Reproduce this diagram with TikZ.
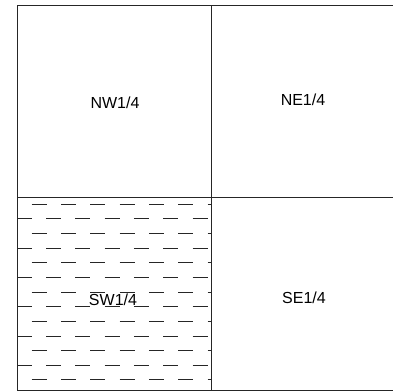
\documentclass[tikz,border=0pt]{standalone}
\usepackage{fontspec}
\setmainfont{Liberation Sans}
\begin{document}
\begin{tikzpicture}[x=1pt,y=-1pt,
  edge/.style={line width=0.9pt,black!85},
  hatch/.style={line width=0.9pt,black!85,dash pattern=on 15pt off 14.3pt},
  lbl/.style={font=\fontsize{16}{16}\selectfont,inner sep=0pt}]
\useasboundingbox (0,0) rectangle (393,391);
% hatching in SW quarter
\begin{scope}
\clip (17.5,197) rectangle (211,390);
\foreach \k in {0,...,12}{
  \pgfmathsetmacro{\yy}{204.3+14.63*\k}
  \ifodd\k
    \draw[hatch] (16.7,\yy) -- (215,\yy);
  \else
    \draw[hatch] (2.4,\yy) -- (215,\yy);
  \fi
}
\end{scope}
% frame
\draw[edge] (393,5) -- (17.5,5) -- (17.5,390) -- (393,390);
\draw[edge] (211,5) -- (211,390);
\draw[edge] (17.5,197) -- (393,197);
% labels
\node[lbl] (nw) at (115,103) {NW1/4};
\node[lbl] (ne) at (303,100) {NE1/4};
\node[lbl] (sw) at (113,300) {SW1/4};
\node[lbl] (se) at (304,298) {SE1/4};
\end{tikzpicture}
\end{document}
